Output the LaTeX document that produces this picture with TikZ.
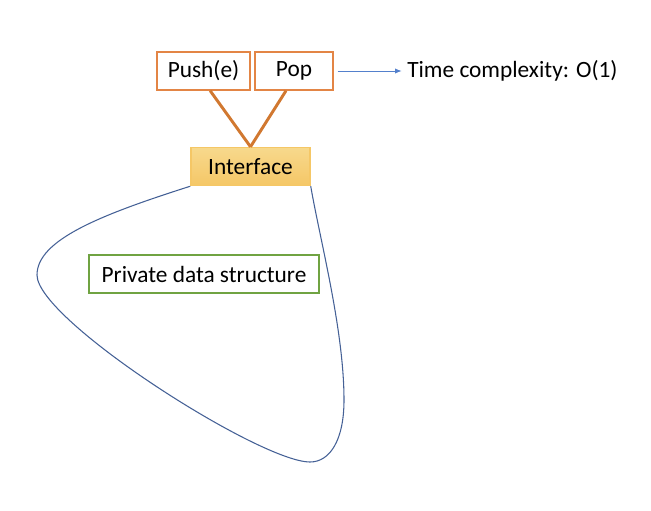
\documentclass[tikz,border=0pt]{standalone}
\usepackage{fontspec}
\setmainfont{Carlito}
\usetikzlibrary{arrows.meta}

\begin{document}
\begin{tikzpicture}[x=0.75pt,y=-0.75pt,
  box/.style={draw,line width=1.1pt,fill=white,minimum height=28.5pt,inner sep=0pt,font=\fontsize{17.5}{20}\selectfont}]
\definecolor{edqqaa}{rgb}{0.89,0.52,0.27}
\definecolor{ddqqbb}{rgb}{0.82,0.47,0.19}
\definecolor{ffccqq}{rgb}{0.96,0.78,0.40}
\definecolor{ffddaa}{rgb}{0.97,0.85,0.55}
\definecolor{wwqqbb}{rgb}{0.27,0.38,0.59}
\definecolor{qqaacc}{rgb}{0.33,0.50,0.80}
\definecolor{ggaaqq}{rgb}{0.44,0.64,0.26}
\useasboundingbox (0,0) rectangle (651,511);
\node [box,draw=edqqaa,minimum width=69.75pt] (push) at (203.5,71) {Push(e)};
\node [box,draw=edqqaa,minimum width=58.5pt] (pop) at (294,71) {Pop};
\node [box,draw=ffccqq,top color=ffddaa,bottom color=ffccqq,minimum width=89.25pt] (iface) at (250.5,166.5) {Interface};
\node [box,draw=ggaaqq,minimum width=172.5pt] (priv) at (204,274) {Private data structure};
\node [anchor=west,inner sep=0pt,font=\fontsize{17.5}{20}\selectfont] (time) at (407,71) {Time complexity: O(1)};
\draw [line width=2.2pt,color=ddqqbb] ([xshift=5pt]push.south)-- (iface.north);
\draw [line width=2.2pt,color=ddqqbb] ([xshift=-6pt]pop.south)-- (iface.north);
\draw [line width=0.7pt,color=qqaacc,-{Latex[length=5pt,width=4pt]}] ([xshift=3pt]pop.east)-- ([xshift=-4pt]time.west);
\draw [line width=0.8pt,color=wwqqbb] (iface.south west) .. controls (100,215) and (37,240) .. (37,275)
  .. controls (37,320) and (260,462) .. (310,462)
  .. controls (330,462) and (344,440) .. (344,400)
  .. controls (344,330) and (320,240) .. (iface.south east);
\end{tikzpicture}
\end{document}
